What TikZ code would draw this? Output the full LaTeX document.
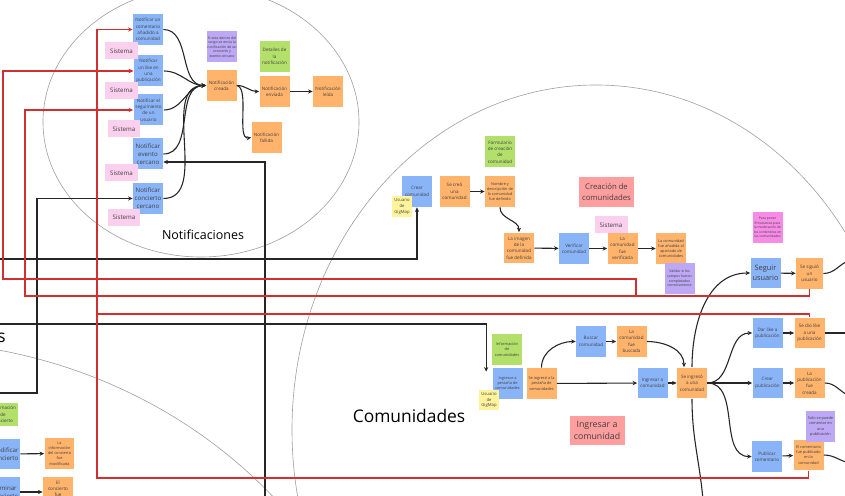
\documentclass[tikz,border=0pt]{standalone}
\usepackage{fontspec}
\setmainfont{Open Sans}
\usetikzlibrary{arrows.meta,positioning,calc}
\definecolor{gmblue}{HTML}{8AB4F8}
\definecolor{gmorange}{HTML}{FFB36B}
\definecolor{gmgreen}{HTML}{B2E06A}
\definecolor{gmpink}{HTML}{FBD0EE}
\definecolor{gmpurple}{HTML}{BCA8F5}
\definecolor{gmyellow}{HTML}{FFF49C}
\definecolor{gmred}{HTML}{FF9E9E}
\definecolor{gmmagenta}{HTML}{F78BE6}
\definecolor{gmline}{HTML}{D32F2F}
\definecolor{gmgrey}{HTML}{A0A0A0}

\begin{document}
\begin{tikzpicture}[
  x=0.02cm, y=-0.02cm,
  sticky/.style={minimum width=0.6cm, minimum height=0.62cm, inner sep=0pt,
    align=center, text=black!75, font=\fontsize{2.6}{3.6}\selectfont},
  cmd/.style={sticky, fill=gmblue},
  evt/.style={sticky, fill=gmorange},
  info/.style={sticky, fill=gmgreen},
  pol/.style={sticky, fill=gmpurple, font=\fontsize{2}{2.6}\selectfont},
  sys/.style={fill=gmpink, minimum width=0.66cm, minimum height=0.34cm,
    inner sep=0pt, text=black!75, font=\fontsize{3.5}{4.2}\selectfont},
  actor/.style={fill=gmyellow, minimum width=0.4cm, minimum height=0.42cm,
    inner sep=0pt, align=center, text=black!75, font=\fontsize{2.4}{3.2}\selectfont},
  ttl/.style={fill=gmred, minimum width=1.1cm, minimum height=0.6cm, inner sep=0pt,
    align=center, text=black!75, font=\fontsize{4.4}{5.8}\selectfont},
  txtxs/.style={font=\fontsize{2.2}{2.9}\selectfont},
  txtl/.style={font=\fontsize{3.5}{4.6}\selectfont},
  flow/.style={-{Stealth[length=2.6pt,width=2.4pt]}, line width=0.62pt, black!85},
  link/.style={-{Stealth[length=2.6pt,width=2.4pt]}, line width=0.85pt, gmline},
  area/.style={gmgrey, line width=0.35pt}
]
  \useasboundingbox (0,0) rectangle (845,496);
  \clip (0,0) rectangle (845,496);

  % Areas
  \draw[area] (201,122) ellipse [x radius=158, y radius=135];
  \draw[area] (596,430) ellipse [x radius=304, y radius=345];
  \draw[area] (-100,800) ellipse [x radius=497, y radius=459];
  \node[font=\fontsize{7.1}{8}\selectfont] (lblNotif) at (203,235) {Notificaciones};
  \node[font=\fontsize{9.9}{11}\selectfont] (lblCom) at (409,416) {Comunidades};
  \node[font=\fontsize{9.9}{11}\selectfont, anchor=east] (lblConc) at (12,336) {Conciertos};

  % Notificaciones
  \node[cmd] (notifCom) at (148,29.5) {Notificar un\\comentario\\añadido a\\comunidad};
  \node[cmd] (notifLike) at (148.5,71) {Notificar\\un like en\\una\\publicación};
  \node[cmd] (notifSeg) at (148.5,110) {Notificar el\\seguimiento\\de un\\usuario};
  \node[cmd, txtl] (notifEvt) at (148,154) {Notificar\\evento\\cercano};
  \node[cmd, txtl] (notifConc) at (148,198.5) {Notificar\\concierto\\cercano};
  \node[sys] (sysA) at (121.5,51) {Sistema};
  \node[sys] (sysB) at (121.5,90.5) {Sistema};
  \node[sys] (sysC) at (124,129) {Sistema};
  \node[sys] (sysD) at (121.5,173) {Sistema};
  \node[sys] (sysE) at (124,217.5) {Sistema};

  \node[pol] (polRango) at (222,47) {Si esta dentro del\\rango se envia la\\notificación de un\\concierto y\\evento cercano};
  \node[evt] (notifCreada) at (221.5,85.5) {Notificación\\creada};
  \node[info] (infoDet) at (274.5,56.5) {Detalles de\\la\\notificación};
  \node[evt] (notifEnv) at (274.5,91.5) {Notificación\\enviada};
  \node[evt] (notifLeida) at (328,91.5) {Notificación\\leída};
  \node[evt] (notifFall) at (266.5,137.5) {Notificación\\fallida};

  % Creacion de comunidades
  \node[cmd] (crearCom) at (417,191.5) {Crear\\comunidad};
  \node[actor] (userA) at (402,206.5) {Usuario\\de\\GigMap};
  \node[evt] (comCreada) at (454.5,191.5) {Se creó\\una\\comunidad};
  \node[info] (infoForm) at (500,152) {Formulario\\de creación\\de\\comunidad};
  \node[evt, txtxs] (comNombre) at (500,191.5) {Nombre y\\descripción de\\la comunidad\\fue definido};
  \node[evt] (comImagen) at (519,248) {La imagen\\de la\\comunidad\\fue definida};
  \node[cmd] (verifCom) at (574,248.5) {Verificar\\comunidad};
  \node[sys] (sysF) at (611,225) {Sistema};
  \node[evt] (comVerif) at (622.5,248.5) {La\\comunidad\\fue\\verificada};
  \node[evt, txtxs] (comAnadida) at (671,248.5) {La comunidad\\fue añadida al\\apartado de\\comunidades};
  \node[pol] (polValidar) at (679.5,278.5) {Validar si los\\campos fueron\\completados\\correctamente};
  \node[ttl] (ttlCreacion) at (606.5,192) {Creación de\\comunidades};

  % Ingresar a comunidad
  \node[info, txtxs] (infoCom) at (507,349.5) {Información\\de\\comunidades};
  \node[cmd, txtxs] (ingPest) at (507.5,383.5) {Ingresar a\\pestaña de\\comunidades};
  \node[actor] (userB) at (489,400) {Usuario\\de\\GigMap};
  \node[evt, txtxs] (pestIng) at (541.5,383.5) {Se ingresó a la\\pestaña de\\comunidades};
  \node[cmd] (buscarCom) at (591,341.5) {Buscar\\comunidad};
  \node[evt] (comBuscada) at (631.5,341.5) {La\\comunidad\\fue\\buscada};
  \node[cmd] (ingCom) at (652.5,383) {Ingresar a\\comunidad};
  \node[evt] (comIng) at (692,383) {Se ingresó\\a una\\comunidad};
  \node[ttl, font=\fontsize{5}{6.4}\selectfont] (ttlIngresar) at (597,430.5) {Ingresar a\\comunidad};

  % Acciones dentro de la comunidad
  \node[sticky, fill=gmmagenta, font=\fontsize{1.9}{2.5}\selectfont] (notaMod) at (767.5,227.5)
    {Para poner\\Entusiastas para\\la moderación de\\los contenidos en\\las comunidades};
  \node[cmd, font=\fontsize{4.2}{5.4}\selectfont] (seguirUs) at (765.5,273) {Seguir\\usuario};
  \node[evt, minimum width=0.54cm] (usSeguido) at (809.5,273.5) {Se siguió\\un\\usuario};
  \node[cmd] (darLike) at (767.5,333) {Dar like a\\publicación};
  \node[evt] (likeDado) at (809.5,333) {Se dio like\\a una\\publicación};
  \node[cmd] (crearPub) at (767.5,383) {Crear\\publicación};
  \node[evt] (pubCreada) at (809.5,383) {La\\publicación\\fue\\creada};
  \node[cmd] (pubCom) at (767,456.5) {Publicar\\comentario};
  \node[evt, txtxs] (comPub) at (808.5,455) {El comentario\\fue publicado\\en la\\comunidad};
  \node[pol, txtxs, minimum width=0.58cm] (polSolo) at (820.5,426.5)
    {Solo se puede\\comentar en\\una\\publicación};

  % Conciertos
  \node[info, minimum height=0.46cm] (infoConc) at (3,414.5) {Información\\de\\concierto};
  \node[cmd, txtl] (modConc) at (5,454) {Modificar\\concierto};
  \node[evt, txtxs] (concMod) at (59.5,453.5) {La\\información\\del concierto\\fue\\modificada};
  \node[cmd, txtl] (elimConc) at (5,492) {Eliminar\\concierto};
  \node[evt] (concElim) at (58,492) {El\\concierto\\fue\\eliminado};

  % Free ends
  \coordinate (offEvt) at (265,500);
  \coordinate (offConc) at (-5,393);
  \coordinate (offCrear) at (-5,259);
  \coordinate (offPest) at (-5,324);
  \coordinate (offSeg) at (850,260);
  \coordinate (offLike) at (850,333);
  \coordinate (offPub) at (850,396);
  \coordinate (offCom) at (850,463);
  \coordinate (offIng) at (703,500);
  \coordinate (junta) at (636,296);

  % Flujo de notificaciones
  \foreach \n in {notifCom,notifLike,notifSeg,notifEvt,notifConc}
    \draw[flow] (\n.east) to[out=0, in=180] (notifCreada.west);
  \draw[flow] (notifCreada.east) to[out=0, in=180] (notifEnv.west);
  \draw[flow] (notifCreada.east) .. controls (250,88) and (236,140) .. (notifFall.west);
  \draw[flow] (notifEnv) -- (notifLeida);
  \draw[flow] (offEvt) |- ($(notifEvt.east)+(0,8)$);
  \draw[flow] (offConc) -- (37,393) |- (notifConc.west);

  % Flujo de comunidades
  \draw[flow] (offCrear) -| (crearCom.south);
  \draw[flow] (comCreada) -- (comNombre);
  \draw[flow] (comNombre.south) to[out=-90, in=90] (comImagen.north);
  \draw[flow] (comImagen) -- (verifCom);
  \draw[flow] (verifCom) -- (comVerif);
  \draw[flow] (comVerif) -- (comAnadida);

  \draw[flow] (offPest) -| ($(ingPest.north west)+(-6,4)$);
  \draw[flow] (pestIng.north) to[out=90, in=180] (buscarCom.west);
  \draw[flow] (pestIng) -- (ingCom);
  \draw[flow] (buscarCom) -- (comBuscada);
  \draw[flow] (comBuscada.east) to[out=0, in=90] ($(comIng.north)+(-8,0)$);
  \draw[flow] (ingCom) -- (comIng);
  \draw[flow] (comIng.north) to[out=90, in=180] (seguirUs.west);
  \draw[flow] (comIng.east) to[out=0, in=180] (darLike.west);
  \draw[flow] (comIng) -- (crearPub);
  \draw[flow] (comIng.east) to[out=0, in=180] (pubCom.west);
  \draw[flow, -] (comIng.south) to[out=-90, in=95] (offIng);
  \draw[flow] (seguirUs) -- (usSeguido);
  \draw[flow] (darLike) -- (likeDado);
  \draw[flow] (crearPub) -- (pubCreada);
  \draw[flow] (pubCom) -- (comPub);
  \draw[flow, -] (usSeguido.east) to[out=0, in=200] (offSeg);
  \draw[flow, -] (likeDado) -- (offLike);
  \draw[flow, -] (pubCreada.east) to[out=0, in=160] (offPub);
  \draw[flow, -] (comPub.east) to[out=0, in=170] (offCom);

  \draw[flow] (modConc) -- (concMod);
  \draw[flow] (elimConc) -- (concElim);

  % Disparadores de notificaciones
  \draw[link] (comPub.south) |- (97,478) |- (notifCom.west);
  \draw[link] (likeDado.north) |- (97,314) |- (notifLike.west);
  \draw[link] (usSeguido.south) |- (25,296) |- (notifSeg.west);
  \draw[link] (junta) |- (636,279) -| (3,279) |- (notifLike.west);

\end{tikzpicture}
\end{document}
